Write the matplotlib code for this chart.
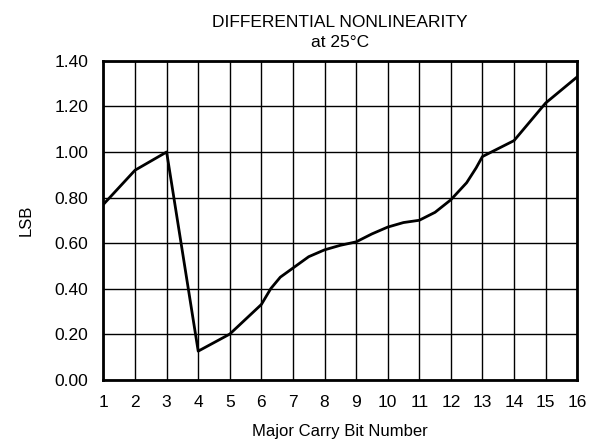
import matplotlib
matplotlib.use("Agg")
import matplotlib.pyplot as plt

# major carry bit number vs DNL (LSB)
BIT = [1, 2, 3, 4, 5, 6, 6.3, 6.6, 7, 7.5, 8, 8.5, 9, 9.5, 10, 10.5, 11,
       11.5, 12, 12.5, 12.8, 13, 14, 15, 16]
DNL = [0.77, 0.92, 1.00, 0.125, 0.20, 0.33, 0.40, 0.45, 0.49, 0.54, 0.57,
       0.59, 0.605, 0.64, 0.67, 0.69, 0.70, 0.735, 0.79, 0.865, 0.93, 0.98,
       1.05, 1.215, 1.33]
XTICKS = list(range(1, 17))
YTICKS = [0.0, 0.2, 0.4, 0.6, 0.8, 1.0, 1.2, 1.4]

plt.rcParams['font.family'] = ['Liberation Sans', 'DejaVu Sans']

fig = plt.figure(figsize=(6.05, 4.45), dpi=100)
ax = fig.add_axes([0.171, 0.147, 0.783, 0.716])

ax.plot(BIT, DNL, color='black', linewidth=2.0, zorder=3)

ax.set_xlim(1, 16)
ax.set_ylim(0, 1.4)
ax.set_xticks(XTICKS)
ax.set_yticks(YTICKS)
ax.set_yticklabels(['%.2f' % v for v in YTICKS])
ax.tick_params(length=0, labelsize=12.5)
ax.tick_params(axis='x', pad=11)
ax.tick_params(axis='y', pad=11)
ax.grid(True, color='black', linewidth=1.0)
for s in ax.spines.values():
    s.set_linewidth(2.0)

ax.set_xlabel('Major Carry Bit Number', fontsize=12, labelpad=10)
ax.set_ylabel('LSB', fontsize=12, labelpad=15)
ax.set_title('DIFFERENTIAL NONLINEARITY\nat 25°C', fontsize=12.5, pad=10,
             linespacing=1.45)

fig.savefig('out.png', dpi=100)
